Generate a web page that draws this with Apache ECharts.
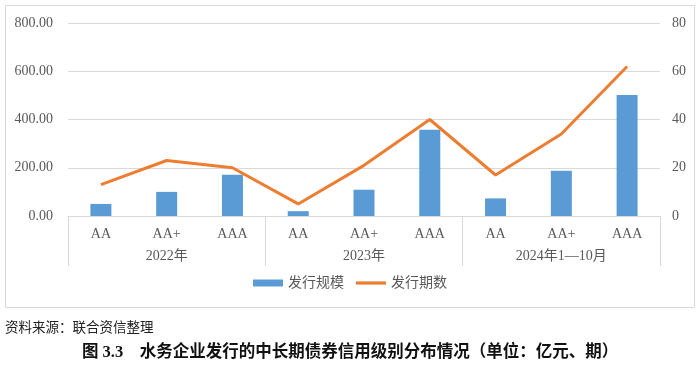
<!DOCTYPE html>
<html><head><meta charset="utf-8">
<script src="https://cdn.jsdelivr.net/npm/echarts@6/dist/echarts.min.js"></script>
<style>html,body{margin:0;padding:0;background:#fff}#c{width:700px;height:365px}</style>
</head><body><div id="c"></div>
<script>
const categories = ['AA','AA+','AAA','AA','AA+','AAA','AA','AA+','AAA'];
const groups = ['2022年','2023年','2024年1—10月'];
const issueScale = [50, 100, 171, 20, 109, 357, 73, 188, 502];
const issueCount = [13, 23, 20, 5, 21, 40, 17, 34, 62];
const leftTicks = [0, 800, 200];
const rightTicks = [0, 80, 20];
const seriesNames = ['发行规模','发行期数'];
const sourceText = '资料来源：联合资信整理';
const captionText = '图 3.3　水务企业发行的中长期债券信用级别分布情况（单位：亿元、期）';

const serif = '"Liberation Serif","Times New Roman","Noto Sans CJK SC",serif';
const chart = echarts.init(document.getElementById('c'));
chart.setOption({
  animation:false,
  grid:{left:68,right:40,top:23,bottom:149},
  legend:{
    bottom:70, left:'center', itemGap:12, itemWidth:30, itemHeight:7,
    textStyle:{fontFamily:serif,fontSize:14,color:'#595959'},
    data:[{name:seriesNames[0],icon:'rect'},{name:seriesNames[1],icon:'path://M0,0H30V3.2H0Z'}]
  },
  xAxis:[{
    type:'category', data:categories, position:'bottom',
    axisLine:{lineStyle:{color:'#d9d9d9'}},
    axisTick:{show:false},
    axisLabel:{fontFamily:serif,fontSize:14,color:'#595959',margin:11}
  },{
    type:'category', data:groups, position:'bottom',
    axisLine:{show:false},
    axisTick:{show:true,length:50,lineStyle:{color:'#d9d9d9'}},
    axisLabel:{fontFamily:serif,fontSize:14,color:'#595959',margin:33}
  }],
  yAxis:[{
    type:'value', min:leftTicks[0], max:leftTicks[1], interval:leftTicks[2],
    axisLine:{show:false}, axisTick:{show:false},
    splitLine:{lineStyle:{color:'#d9d9d9'}},
    axisLabel:{fontFamily:serif,fontSize:14,color:'#595959',margin:15,formatter:v=>v.toFixed(2)}
  },{
    type:'value', min:rightTicks[0], max:rightTicks[1], interval:rightTicks[2],
    axisLine:{show:false}, axisTick:{show:false}, splitLine:{show:false},
    axisLabel:{fontFamily:serif,fontSize:14,color:'#595959',margin:12}
  }],
  series:[{
    name:seriesNames[0], type:'bar', data:issueScale, barWidth:21,
    itemStyle:{color:'#5b9bd5'}, xAxisIndex:0, yAxisIndex:0
  },{
    name:seriesNames[1], type:'line', data:issueCount, yAxisIndex:1, xAxisIndex:0,
    symbol:'none', lineStyle:{color:'#ed7d31',width:3}, itemStyle:{color:'#ed7d31'}
  }],
  graphic:[
    {type:'rect',shape:{x:5.5,y:5.5,width:689,height:302},style:{fill:'none',stroke:'#d9d9d9',lineWidth:1},silent:true,z:-1},
    {type:'text',left:5,top:320,style:{text:sourceText,font:'13.5px "Noto Sans CJK SC",serif',fill:'#222'}},
    {type:'text',left:'center',top:344,style:{text:captionText,font:'bold 16.5px "Liberation Serif","Noto Sans CJK SC",serif',fill:'#111'}}
  ]
});
</script></body></html>
